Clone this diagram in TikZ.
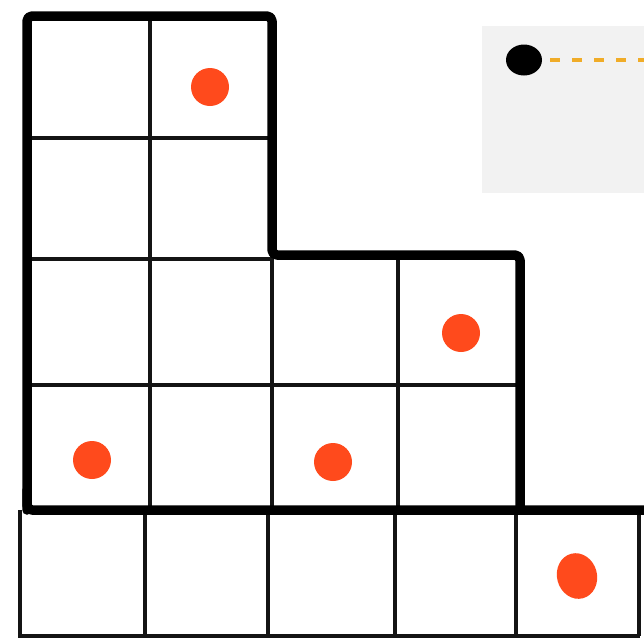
\documentclass[tikz,border=0pt]{standalone}
\usetikzlibrary{shapes.geometric}
\definecolor{dotred}{RGB}{255,74,28}
\definecolor{guideorange}{RGB}{240,172,40}
\definecolor{panelgrey}{RGB}{242,242,242}
\begin{document}
\begin{tikzpicture}[x=1pt,y=-1pt,
  thin line/.style={line width=3.4pt,draw=black!92},
  thick line/.style={line width=9.5pt,draw=black,line join=round,line cap=round,rounded corners=5pt},
  reddot/.style={circle,fill=dotred,draw=none,minimum size=38pt,inner sep=0pt},
  blackdot/.style={ellipse,fill=black,draw=none,minimum width=36pt,minimum height=31pt,inner sep=0pt},
  guide/.style={line width=3.5pt,draw=guideorange,dash pattern=on 10pt off 12pt}]
\useasboundingbox (0,0) rectangle (644,641);
\fill[white] (0,0) rectangle (644,641);
% grey panel
\fill[panelgrey] (482,26) rectangle (644,193);
% thin grid lines
\draw[thin line] (150,16) -- (150,510);
\draw[thin line] (272,255) -- (272,510);
\draw[thin line] (398,255) -- (398,510);
\draw[thin line] (27,138) -- (272,138);
\draw[thin line] (27,259) -- (272,259);
\draw[thin line] (27,385) -- (520,385);
% bottom row
\draw[thin line] (20,510) -- (20,636) -- (640,636);
\draw[thin line] (145,510) -- (145,636);
\draw[thin line] (268,510) -- (268,636);
\draw[thin line] (395,510) -- (395,636);
\draw[thin line] (516,510) -- (516,636);
\draw[thin line] (639,510) -- (639,636);
% thick outline
\draw[thick line] (27,510) -- (27,16) -- (272,16) -- (272,255) -- (520,255) -- (520,508);
\draw[thick line] (27,490) |- (644,510);
% dots
\node[reddot] (d1) at (210,87) {};
\node[reddot] (d2) at (461,333) {};
\node[reddot] (d3) at (92,460) {};
\node[reddot] (d4) at (333,462) {};
\node[reddot,ellipse,minimum width=40pt,minimum height=46pt,rotate=15] (d5) at (577,576) {};
\node[blackdot] (b) at (524,60) {};
\coordinate (e) at (644,60);
\draw[guide] ([xshift=8pt]b.east) -- (e);
\end{tikzpicture}
\end{document}
